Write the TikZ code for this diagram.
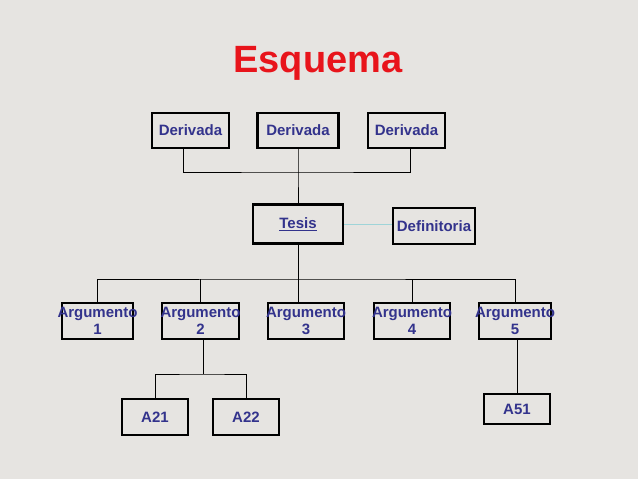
\documentclass[tikz,border=0pt]{standalone}
\usepackage{fontspec}
\setmainfont{Liberation Sans}
\definecolor{bg}{HTML}{E6E4E1}
\definecolor{txt}{HTML}{33338C}
\definecolor{ttl}{HTML}{E8141B}
\definecolor{defl}{HTML}{9FD4D8}
\begin{document}
\begin{tikzpicture}[x=1pt,y=-1pt,
  bx/.style={draw=black,line width=2.5pt,fill=bg,text=txt,font=\bfseries\fontsize{15}{17}\selectfont,inner sep=0pt,align=center},
  ln/.style={draw=black,line width=0.8pt}]
\fill[bg] (0,0) rectangle (638,479);
\useasboundingbox (0,0) rectangle (638,479);
\node[text=ttl,font=\bfseries\fontsize{38}{40}\selectfont] (title) at (318,63) {Esquema};
\node[bx,minimum width=77,minimum height=35] (d1) at (190.5,130.5) {Derivada};
\node[bx,minimum width=81,minimum height=35] (d2) at (298,130.5) {Derivada};
\node[bx,minimum width=77,minimum height=35] (d3) at (406.5,130.5) {Derivada};
\node[bx,minimum width=90,minimum height=39] (t) at (298,224) {\underline{Tesis}};
\node[bx,minimum width=82,minimum height=36] (def) at (434,226) {Definitoria};
\node[bx,minimum width=71,minimum height=36] (a1) at (97.5,321) {};
\node[bx,minimum width=77,minimum height=36] (a2) at (200.5,321) {};
\node[bx,minimum width=76,minimum height=36] (a3) at (306,321) {};
\node[bx,minimum width=76,minimum height=36] (a4) at (412,321) {};
\node[bx,minimum width=72,minimum height=36] (a5) at (515,321) {};
\foreach \n/\k in {a1/1,a2/2,a3/3,a4/4,a5/5}
  \node[text=txt,font=\bfseries\fontsize{15}{17}\selectfont,align=center,inner sep=0pt] (l\k) at (\n) {Argumento\\\k};
\node[bx,minimum width=66,minimum height=36] (b1) at (155,417) {A21};
\node[bx,minimum width=66,minimum height=36] (b2) at (246,417) {A22};
\node[bx,minimum width=66,minimum height=30] (c1) at (517,409) {A51};
\coordinate (j1) at (298,172);
\coordinate (j2) at (298,279);
\coordinate (j3) at (203,374);
\draw[ln] (183,148) |- (j1) -| (410,148);
\draw[ln] (d2.south) -- (j1) -- (t.north);
\draw[draw=defl,line width=0.8pt] (t.east) -- (t.east -| def.west);
\draw[ln] (t.south) -- (j2);
\draw[ln] (a1.north) |- (j2) -| (a5.north);
\draw[ln] (j2 -| a2.north) -- (a2.north);
\draw[ln] (j2 -| a4.north) -- (a4.north);
\draw[ln] (j2) -- (a3.north -| j2);
\draw[ln] (a2.south -| j3) -- (j3);
\draw[ln] (b1.north) |- (j3) -| (b2.north);
\draw[ln] (a5.south -| c1.north) -- (c1.north);
\end{tikzpicture}
\end{document}
